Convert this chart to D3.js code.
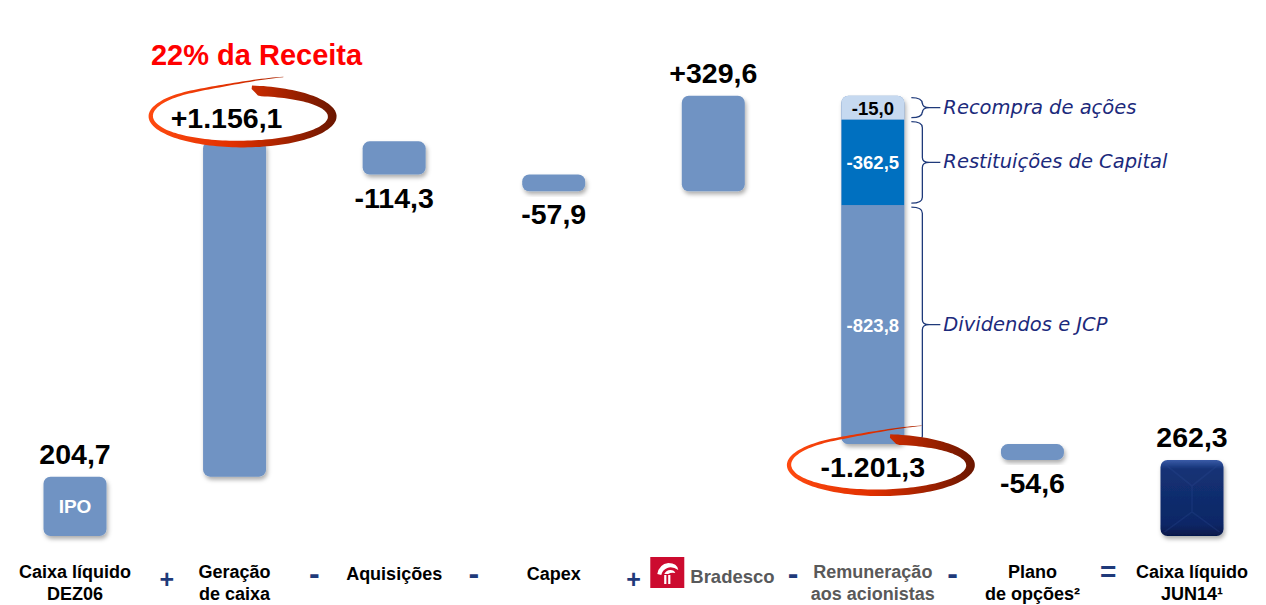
<!DOCTYPE html>
<html>
<head>
<meta charset="utf-8">
<script src="https://cdn.jsdelivr.net/npm/d3@7"></script>
<style>
  body { margin: 0; background: #fff; }
  svg { display: block; font-family: "Liberation Sans", Arial, sans-serif; }
</style>
</head>
<body>
<div class="main"></div>
<script>
// Fluxo de caixa: DEZ06 -> JUN14 (cascata)
const width = 1266, height = 605;

// Dados
const categories = ["Caixa líquido DEZ06", "Geração de caixa", "Aquisições", "Capex",
                    "Bradesco", "Remuneração aos acionistas", "Plano de opções", "Caixa líquido JUN14"];
const labelLines = [["Caixa líquido", "DEZ06"], ["Geração", "de caixa"], ["Aquisições"], ["Capex"],
                    [], ["Remuneração", "aos acionistas"], ["Plano", "de opções²"], ["Caixa líquido", "JUN14¹"]];
const values = [204.7, 1156.1, -114.3, -57.9, 329.6, -1201.3, -54.6, 262.3];
const valueLabels = ["204,7", "+1.156,1", "-114,3", "-57,9", "+329,6", "-1.201,3", "-54,6", "262,3"];
const isTotal = [true, false, false, false, false, false, false, true];
const operators = ["+", "-", "-", "+", "-", "-", "="];

// Detalhe da remuneração aos acionistas (de cima para baixo)
const payoutValues = [-15.0, -362.5, -823.8];
const payoutLabels = ["-15,0", "-362,5", "-823,8"];
const payoutNotes = ["Recompra de ações", "Restituições de Capital", "Dividendos e JCP"];
const payoutColors = ["#c6d9f0", "#0070c0", "#6f93c3"];

const barColor = "#6f93c3";
const navy = "#1f3a7a";

const svg = d3.select(".main").append("svg")
    .attr("width", width).attr("height", height);

const defs = svg.append("defs");
defs.append("filter").attr("id", "shadow").attr("x", "-20%").attr("y", "-20%")
    .attr("width", "150%").attr("height", "150%")
  .append("feDropShadow").attr("dx", 1.5).attr("dy", 3).attr("stdDeviation", 2.2)
    .attr("flood-color", "#000").attr("flood-opacity", 0.32);

const redGrad = defs.append("linearGradient").attr("id", "redgrad")
    .attr("x1", "0%").attr("x2", "100%").attr("y1", "0%").attr("y2", "0%");
redGrad.append("stop").attr("offset", "0%").attr("stop-color", "#ff4a10");
redGrad.append("stop").attr("offset", "45%").attr("stop-color", "#e03000");
redGrad.append("stop").attr("offset", "100%").attr("stop-color", "#6a1600");

const navyGrad = defs.append("linearGradient").attr("id", "navygrad")
    .attr("x1", "0%").attr("x2", "0%").attr("y1", "0%").attr("y2", "100%");
navyGrad.append("stop").attr("offset", "0%").attr("stop-color", "#3a5ba8");
navyGrad.append("stop").attr("offset", "12%").attr("stop-color", "#143275");
navyGrad.append("stop").attr("offset", "85%").attr("stop-color", "#0d2766");
navyGrad.append("stop").attr("offset", "100%").attr("stop-color", "#06174a");

// Escalas
const x = d3.scalePoint().domain(categories).range([75, 1192]);
const y = d3.scaleLinear().domain([0, 1600]).range([536, 72]);
const barW = 63;

// Cascata: início / fim de cada barra
let running = 0;
const bars = categories.map((c, i) => {
  let start, end;
  if (isTotal[i]) { start = 0; end = values[i]; running = values[i]; }
  else { start = running; end = running + values[i]; running = end; }
  return { cat: c, i: i, start: start, end: end, value: values[i], label: valueLabels[i] };
});

// Barras simples (todas menos a remuneração detalhada)
const simple = bars.filter(d => d.i !== 5);
svg.selectAll("rect.bar")
  .data(simple)
  .join("rect")
    .attr("class", "bar")
    .attr("x", d => x(d.cat) - barW / 2)
    .attr("y", d => y(Math.max(d.start, d.end)))
    .attr("width", barW)
    .attr("height", d => Math.abs(y(d.start) - y(d.end)))
    .attr("rx", 7)
    .attr("fill", d => d.i === 7 ? "url(#navygrad)" : barColor)
    .attr("filter", "url(#shadow)");

// Brilho da barra final
const fin = bars[7];
const fx0 = x(fin.cat) - barW / 2, fx1 = x(fin.cat) + barW / 2;
const fy0 = y(fin.end), fy1 = y(fin.start);
svg.append("path")
  .attr("d", `M${fx0 + 4},${fy0 + 4} L${(fx0 + fx1) / 2},${fy0 + 26} L${fx1 - 4},${fy0 + 4}
              M${fx0 + 4},${fy1 - 4} L${(fx0 + fx1) / 2},${fy1 - 24} L${fx1 - 4},${fy1 - 4}
              M${(fx0 + fx1) / 2},${fy0 + 26} L${(fx0 + fx1) / 2},${fy1 - 24}`)
  .attr("fill", "none").attr("stroke", "#2b4a93").attr("stroke-opacity", 0.3).attr("stroke-width", 1.5);

// Texto IPO
const ipo = bars[0];
svg.append("text")
  .attr("x", x(ipo.cat)).attr("y", (y(ipo.start) + y(ipo.end)) / 2 + 7)
  .attr("text-anchor", "middle").attr("fill", "#fff")
  .attr("font-weight", "bold").attr("font-size", 19).text("IPO");

// Barra empilhada: remuneração aos acionistas
const pay = bars[5];
const px = x(pay.cat) - barW / 2;
const stackTop = y(pay.start), stackBot = y(pay.end);
let acc = pay.start;
const segs = payoutValues.map((v, k) => {
  const s = { k: k, y0: y(acc), y1: y(acc + v) };
  acc += v;
  return s;
});
// altura mínima para caber o rótulo do primeiro segmento
const minH = 24;
if (segs[0].y1 - segs[0].y0 < minH) { segs[0].y1 = segs[0].y0 + minH; segs[1].y0 = segs[0].y1; }

defs.append("clipPath").attr("id", "stackclip")
  .append("rect").attr("x", px).attr("y", stackTop).attr("width", barW)
  .attr("height", stackBot - stackTop).attr("rx", 7);

svg.append("rect")
  .attr("x", px).attr("y", stackTop).attr("width", barW).attr("height", stackBot - stackTop)
  .attr("rx", 7).attr("fill", barColor).attr("filter", "url(#shadow)");

const stackG = svg.append("g").attr("clip-path", "url(#stackclip)");
stackG.selectAll("rect")
  .data(segs)
  .join("rect")
    .attr("x", px).attr("y", d => d.y0).attr("width", barW)
    .attr("height", d => d.y1 - d.y0)
    .attr("fill", d => payoutColors[d.k]);

svg.selectAll("text.seg")
  .data(segs)
  .join("text")
    .attr("class", "seg")
    .attr("x", x(pay.cat))
    .attr("y", d => (d.y0 + d.y1) / 2 + 7)
    .attr("text-anchor", "middle")
    .attr("font-weight", "bold").attr("font-size", 18.5)
    .attr("fill", d => d.k === 0 ? "#000" : "#fff")
    .text(d => payoutLabels[d.k]);

// Chaves e notas manuscritas
const bx = px + barW + 18;
function brace(y1, y2) {
  const ym = (y1 + y2) / 2;
  return `M${bx - 11},${y1} Q${bx},${y1} ${bx},${y1 + 6} L${bx},${ym - 5} Q${bx},${ym} ${bx + 7},${ym}
          Q${bx},${ym} ${bx},${ym + 5} L${bx},${y2 - 6} Q${bx},${y2} ${bx - 11},${y2}
          M${bx + 7},${ym} L${bx + 18},${ym}`;
}
svg.selectAll("path.brace")
  .data(segs)
  .join("path")
    .attr("class", "brace")
    .attr("d", d => brace(d.y0 + 2, d.y1 - 2))
    .attr("fill", "none").attr("stroke", navy).attr("stroke-width", 1.3);

svg.selectAll("text.note")
  .data(segs)
  .join("text")
    .attr("class", "note")
    .attr("x", bx + 21)
    .attr("y", d => (d.y0 + d.y1) / 2 + 6)
    .attr("font-family", "'Segoe Print', 'Comic Sans MS', 'DejaVu Sans', cursive")
    .attr("font-style", "italic")
    .attr("font-size", 19.5)
    .attr("fill", "#1c2a7c")
    .text(d => payoutNotes[d.k]);

// Rótulos de valor
const labelPos = bars.map(d => {
  const top = y(Math.max(d.start, d.end)), bot = y(Math.min(d.start, d.end));
  const above = d.value > 0;
  return { d: d, x: x(d.cat), y: above ? top - 13 : bot + 33 };
});
svg.selectAll("text.val")
  .data(labelPos)
  .join("text")
    .attr("class", "val")
    .attr("x", p => p.x + (p.d.i === 1 ? -8 : 0))
    .attr("y", p => p.y)
    .attr("text-anchor", "middle")
    .attr("font-weight", "bold").attr("font-size", 28.5)
    .attr("fill", "#000")
    .text(p => p.d.label);

// Elipses vermelhas (pinceladas)
function swoosh(cx, cy, rx, ry, wmax) {
  const n = 160, t0 = -Math.PI / 2 + 0.1, span = 2 * Math.PI + 0.35;
  const outer = [], inner = [];
  for (let j = 0; j <= n; j++) {
    const s = j / n, t = t0 + s * span;
    const g = s > 0.85 ? 1 + 0.42 * Math.pow((s - 0.85) / 0.15, 2) : 1;
    const w = wmax * Math.pow(1 - s, 0.8) * Math.min(1, s / 0.02 + 0.3) + 0.5;
    const a = rx, b = ry * g;
    outer.push([cx + a * Math.cos(t), cy + b * Math.sin(t)]);
    inner.push([cx + (a - w) * Math.cos(t), cy + (b - w) * Math.sin(t)]);
  }
  const pts = outer.concat(inner.reverse());
  return "M" + pts.map(p => p[0].toFixed(1) + "," + p[1].toFixed(1)).join("L") + "Z";
}
[labelPos[1], labelPos[5]].forEach(p => {
  svg.append("path")
    .attr("d", swoosh(p.x + 8, p.y - 12, 94, 31, 10))
    .attr("fill", "url(#redgrad)");
});

// Anotação 22% da Receita
svg.append("text")
  .attr("x", labelPos[1].x + 22).attr("y", labelPos[1].y - 13 - 50)
  .attr("text-anchor", "middle").attr("font-weight", "bold").attr("font-size", 29)
  .attr("fill", "#ff0000").text("22% da Receita");

// Rótulos das categorias
const catG = svg.selectAll("g.cat")
  .data(categories)
  .join("g").attr("class", "cat")
  .attr("transform", c => `translate(${x(c)},0)`);
catG.each(function (c, i) {
  const lines = labelLines[i];
  d3.select(this).selectAll("text")
    .data(lines)
    .join("text")
      .attr("x", 0)
      .attr("y", (l, k) => (lines.length === 1 ? 580 : 578 + k * 22))
      .attr("text-anchor", "middle")
      .attr("font-weight", "bold").attr("font-size", 18)
      .attr("fill", i === 5 ? "#595959" : "#000")
      .text(l => l);
});

// Operadores
const opX = d3.pairs(categories).map(p => (x(p[0]) + x(p[1])) / 2);
svg.selectAll("text.op")
  .data(operators)
  .join("text")
    .attr("class", "op")
    .attr("x", (o, i) => opX[i] + (i === 0 ? 12 : i === 6 ? -4 : 0))
    .attr("y", o => o === "+" ? 588 : o === "=" ? 581 : 584)
    .attr("text-anchor", "middle")
    .attr("font-weight", "bold").attr("font-size", o => o === "+" ? 25 : o === "=" ? 28 : 32)
    .attr("fill", navy)
    .text(o => o);

// Logotipo Bradesco
const bxc = x(categories[4]);
const logo = svg.append("g").attr("transform", `translate(${bxc - 63},557)`);
logo.append("rect").attr("width", 34).attr("height", 31).attr("fill", "#cc0b2f");
logo.append("path")
  .attr("d", "M7,17 Q9,7 18,6 Q27,6 28,13 Q22,9 17,11 Q12,13 11,18 Z M14,17 Q16,13 20,13 Q24,13 25,16 Q21,15 18,17 Z")
  .attr("fill", "#fff");
logo.append("path")
  .attr("d", "M15,18 L15,27 M19,18 L19,27")
  .attr("stroke", "#fff").attr("stroke-width", 2.2);
logo.append("text")
  .attr("x", 40).attr("y", 26)
  .attr("font-weight", "bold").attr("font-size", 18.5)
  .attr("fill", "#58595b").text("Bradesco");
</script>
</body>
</html>
